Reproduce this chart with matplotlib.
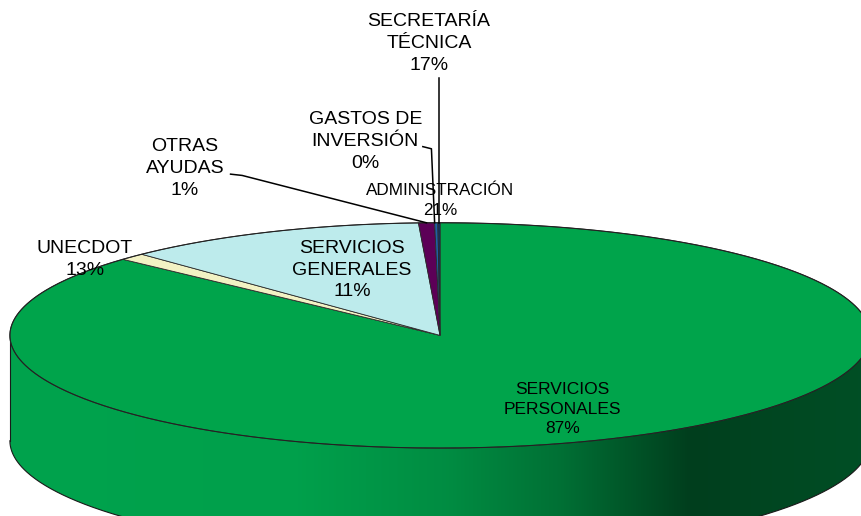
import numpy as np
import matplotlib
matplotlib.use("Agg")
import matplotlib.pyplot as plt
from matplotlib.patches import Polygon

# data (share of budget, clockwise from 12 o'clock)
categories = ["SERVICIOS\nPERSONALES", "UNECDOT", "SERVICIOS\nGENERALES", "OTRAS\nAYUDAS",
              "GASTOS DE\nINVERSIÓN", "ADMINISTRACIÓN", "SECRETARÍA\nTÉCNICA"]
values = [86.8, 1.0, 11.4, 0.6, 0.0, 0.12, 0.08]
pct_labels = ["87%", "13%", "11%", "1%", "0%", "21%", "17%"]

colors = ["#00a44b", "#f2f2c4", "#bdebec", "#5c0057", "#7f7f7f", "#1f5fa6", "#10306f"]

# pie geometry (units of the horizontal radius)
RY = 0.262
DEPTH = 0.245
START = 90.0

plt.rcParams['font.family'] = ['Liberation Sans', 'DejaVu Sans']

fig = plt.figure(figsize=(8.62, 5.16), dpi=100)
ax = fig.add_axes([0, 0, 1, 1])
ax.set_xlim(-1.023, 0.981)
ax.set_ylim(-0.42, 0.78)
ax.axis('off')


def top_pt(t):
    r = np.radians(t)
    return np.cos(r), RY * np.sin(r)


total = sum(values)
bounds = [START]
for v in values:
    bounds.append(bounds[-1] - 360.0 * v / total)

# side wall of the front half (only the big slice is in front)
ts = np.linspace(-180, 0, 400)
tx = np.cos(np.radians(ts))
ty = RY * np.sin(np.radians(ts))
side = list(zip(tx, ty)) + list(zip(tx[::-1], ty[::-1] - DEPTH))
side_patch = Polygon(side, closed=True, facecolor="none", edgecolor="none")
ax.add_patch(side_patch)

gx = np.linspace(-1, 1, 600)
gstops = [-1.0, -0.33, 0.02, 0.28, 0.58, 1.0]
gvals = [163, 160, 140, 112, 62, 80]
gg = np.interp(gx, gstops, gvals) / 255.0
grad = np.zeros((2, len(gx), 3))
grad[:, :, 1] = gg
grad[:, :, 2] = gg * 0.47
im = ax.imshow(grad, extent=(-1, 1, -RY - DEPTH, 0), aspect='auto',
               interpolation='bilinear', zorder=1)
im.set_clip_path(side_patch)

ax.plot(tx, ty - DEPTH, color="#1a1a1a", lw=0.8, zorder=2)
ax.plot([-1, -1], [0, -DEPTH], color="#1a1a1a", lw=0.8, zorder=2)
ax.plot([1, 1], [0, -DEPTH], color="#1a1a1a", lw=0.8, zorder=2)

# top face wedges
for i, v in enumerate(values):
    if v <= 0:
        continue
    a1, a0 = bounds[i], bounds[i + 1]
    ts = np.linspace(a1, a0, max(int(abs(a1 - a0) * 2), 2))
    pts = [(0, 0)] + [top_pt(t) for t in ts]
    ax.add_patch(Polygon(pts, closed=True, facecolor=colors[i], edgecolor="#2a2a2a",
                         lw=0.6, zorder=3))

ts = np.linspace(0, 360, 500)
ax.plot(np.cos(np.radians(ts)), RY * np.sin(np.radians(ts)), color="#222222", lw=0.8, zorder=4)

# labels: position, font size
label_pos = {
    0: (0.284, -0.172),
    1: (-0.826, 0.176),
    2: (-0.205, 0.152),
    3: (-0.593, 0.388),
    4: (-0.174, 0.451),
    5: (0.0, 0.314),
    6: (-0.026, 0.678),
}
for i, cat in enumerate(categories):
    x, y = label_pos[i]
    size = 14
    if i == 0:
        size = 12.5
    if i == 5:
        size = 12.3
    ax.text(x, y, cat + "\n" + pct_labels[i], ha="center", va="center",
            fontsize=size, linespacing=1.38, color="black", zorder=5)

# leader lines to the small slices
leaders = {
    3: [(-0.487, 0.375), (-0.46, 0.372)],
    4: [(-0.04, 0.439), (-0.02, 0.434)],
    6: [(None, 0.598)],
}
for i, elbow in leaders.items():
    mid = 0.5 * (bounds[i] + bounds[i + 1])
    ex, ey = top_pt(mid)
    xs = [ex if p[0] is None else p[0] for p in elbow] + [ex]
    ys = [p[1] for p in elbow] + [ey]
    ax.plot(xs, ys, color="black", lw=1.1, zorder=6)

fig.savefig("out.png", dpi=100)
